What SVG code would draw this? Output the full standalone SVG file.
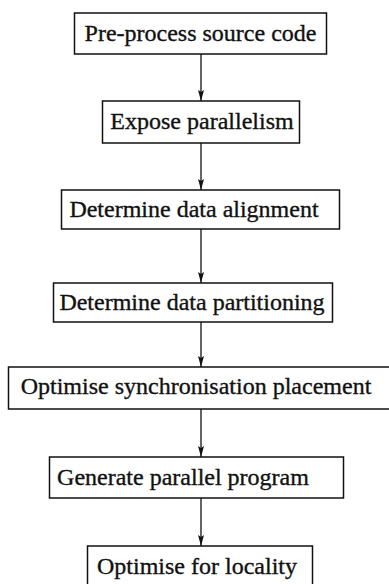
<svg xmlns="http://www.w3.org/2000/svg" width="389" height="584" viewBox="0 0 389 584">
  <style>
    .box { fill: #fff; stroke: #111; stroke-width: 1.5; }
    .label { font-family: "Liberation Serif", "Times New Roman", serif; font-size: 24px; fill: #111; stroke: #111; stroke-width: 0.35; text-anchor: middle; }
    .edge { stroke: #111; stroke-width: 1.3; fill: none; marker-end: url(#arrow); }
  </style>
  <defs>
    <!-- narrow filled arrowhead, tip at the end of the line -->
    <marker id="arrow" viewBox="0 0 11 6" refX="11" refY="3" markerWidth="11" markerHeight="6" markerUnits="userSpaceOnUse" orient="auto">
      <path d="M0,0 L11,3 L0,6 L2,3 Z" fill="#111"/>
    </marker>
  </defs>
  <rect width="389" height="584" fill="#fff"/>

  <g id="edges">
    <line class="edge" x1="201" y1="54" x2="201" y2="101"/>
    <line class="edge" x1="201" y1="143" x2="201" y2="190"/>
    <line class="edge" x1="201" y1="229" x2="201" y2="283"/>
    <line class="edge" x1="201" y1="322" x2="201" y2="367"/>
    <line class="edge" x1="201" y1="409" x2="201" y2="457"/>
    <line class="edge" x1="201" y1="498" x2="201" y2="546"/>
  </g>

  <g id="preprocess">
    <rect class="box" x="74.5" y="13" width="252" height="41"/>
    <text class="label" x="200.5" y="41">Pre-process source code</text>
  </g>
  <g id="expose">
    <rect class="box" x="102.5" y="101" width="197" height="42"/>
    <text class="label" x="202" y="129">Expose parallelism</text>
  </g>
  <g id="alignment">
    <rect class="box" x="61.5" y="190" width="278" height="39"/>
    <text class="label" x="194" y="217">Determine data alignment</text>
  </g>
  <g id="partitioning">
    <rect class="box" x="53.5" y="283" width="279" height="39"/>
    <text class="label" x="192" y="310">Determine data partitioning</text>
  </g>
  <g id="synchronisation">
    <rect class="box" x="8.5" y="367" width="382" height="42"/>
    <text class="label" x="196" y="394">Optimise synchronisation placement</text>
  </g>
  <g id="generate">
    <rect class="box" x="49.5" y="457" width="294" height="41"/>
    <text class="label" x="183" y="485">Generate parallel program</text>
  </g>
  <g id="locality">
    <rect class="box" x="87.5" y="546" width="225" height="40"/>
    <text class="label" x="197" y="574">Optimise for locality</text>
  </g>
</svg>
